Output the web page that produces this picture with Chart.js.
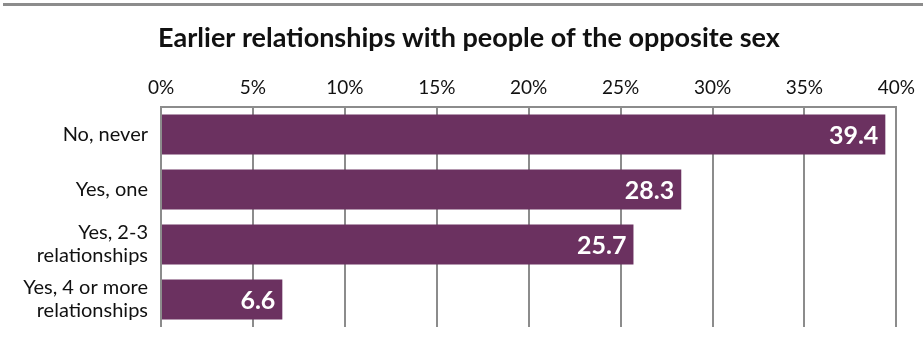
<!DOCTYPE html>
<html>
<head>
<meta charset="utf-8">
<script src="https://cdn.jsdelivr.net/npm/chart.js@4.4.1/dist/chart.umd.min.js"></script>
<style>
  html, body { margin: 0; padding: 0; background: #fff; }
  #wrap { width: 923px; height: 357px; position: relative; }
</style>
</head>
<body>
<div id="wrap"><canvas id="relChart" width="923" height="357"></canvas></div>
<script>
// answers, top to bottom
const categories = [
  "No, never",
  "Yes, one",
  ["Yes, 2-3", "relationships"],
  ["Yes, 4 or more", "relationships"]
];
const shares = [39.4, 28.3, 25.7, 6.6];
const tickValues = [0, 5, 10, 15, 20, 25, 30, 35, 40];
const heading = "Earlier relationships with people of the opposite sex";

const purple = "#6b3160";
const gridGray = "#8c8c8c";

// grey rule across the top and the heading under it
const header = {
  id: "header",
  beforeDraw(chart) {
    const c = chart.ctx;
    c.save();
    c.fillStyle = gridGray;
    c.fillRect(3, 3, chart.width - 3, 3);
    c.fillStyle = "#111";
    c.font = "bold 27px Lato";
    c.textAlign = "center";
    c.textBaseline = "middle";
    c.fillText(heading, 469, 38);
    c.restore();
  }
};

// white values inside the bar ends
const barValues = {
  id: "barValues",
  afterDatasetsDraw(chart) {
    const c = chart.ctx;
    const meta = chart.getDatasetMeta(0);
    c.save();
    c.fillStyle = "#fff";
    c.font = "bold 25px Lato";
    c.textAlign = "right";
    c.textBaseline = "middle";
    meta.data.forEach((bar, i) => {
      c.fillText(shares[i].toFixed(1), bar.x - 7, bar.y + 1);
    });
    c.restore();
  }
};

new Chart(document.getElementById("relChart"), {
  type: "bar",
  data: {
    labels: categories,
    datasets: [{
      data: shares,
      backgroundColor: purple,
      borderWidth: 0,
      barPercentage: 0.73,
      categoryPercentage: 1
    }]
  },
  options: {
    indexAxis: "y",
    responsive: false,
    animation: false,
    layout: { padding: { top: 78, right: 24, bottom: 30, left: 0 } },
    plugins: {
      legend: { display: false },
      tooltip: { enabled: false },
      title: { display: false }
    },
    scales: {
      x: {
        position: "top",
        min: 0,
        max: 40,
        afterBuildTicks(scale) {
          scale.ticks = tickValues.map(v => ({ value: v }));
        },
        afterFit(scale) { scale.height = 29; },
        ticks: {
          color: "#111",
          padding: 8,
          font: { family: "Lato", size: 19 },
          callback: v => v + "%"
        },
        grid: { color: gridGray, lineWidth: 2, drawTicks: false },
        border: { color: gridGray, width: 2 }
      },
      y: {
        afterFit(scale) { scale.width = 161; },
        ticks: {
          color: "#111",
          padding: 5,
          font: { family: "Lato", size: 20, lineHeight: 1.15 }
        },
        grid: { display: false },
        border: { display: false }
      }
    }
  },
  plugins: [header, barValues]
});
</script>
</body>
</html>
